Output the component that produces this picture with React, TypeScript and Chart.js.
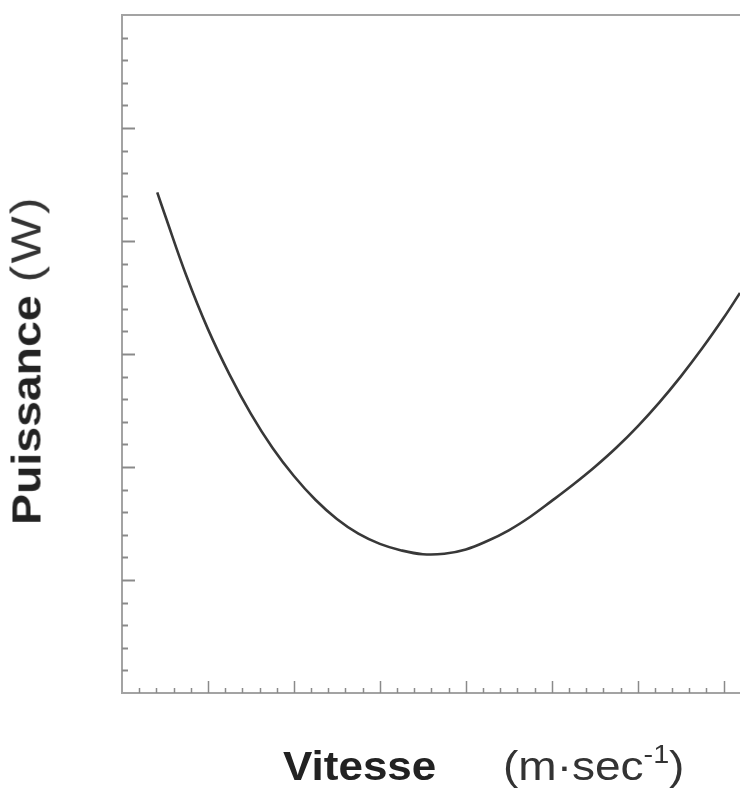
import React, { useEffect, useRef } from "react";
import { Chart, registerables } from "chart.js";

Chart.register(...registerables);

// Speed (axis units) and power (axis units)
const speed = [0.41, 0.5, 0.75, 1.0, 1.25, 1.5, 1.75, 2.0, 2.25, 2.5, 2.75, 3.0, 3.25, 3.5, 3.75, 4.0, 4.25, 4.5, 4.75, 5.0, 5.25, 5.5, 5.75, 6.0, 6.25, 6.5, 6.75, 7.0, 7.19];
const power = [4.43, 4.23, 3.69, 3.22, 2.82, 2.47, 2.17, 1.92, 1.71, 1.54, 1.41, 1.32, 1.262, 1.228, 1.232, 1.27, 1.345, 1.44, 1.56, 1.7, 1.845, 2.0, 2.17, 2.36, 2.57, 2.8, 3.05, 3.32, 3.54];

const xMin = 0;
const xMax = 7.19;
const yMin = 0;
const yMax = 6;
const minorStep = 0.2;

const AXIS_COLOR = "#a3a3a3";
const TICK_COLOR = "#8a8a8a";

const insideTicks = {
  id: "insideTicks",
  afterDraw(chart: any) {
    const { ctx, chartArea, scales } = chart;
    const xs = scales.x;
    const ys = scales.y;
    ctx.save();
    ctx.strokeStyle = TICK_COLOR;
    ctx.lineWidth = 2;
    const nY = Math.round((yMax - yMin) / minorStep);
    for (let i = 1; i < nY; i++) {
      const v = yMin + i * minorStep;
      const major = i % 5 === 0;
      const py = Math.round(ys.getPixelForValue(v)) + 0.5;
      const len = major ? 13 : 6;
      ctx.beginPath();
      ctx.moveTo(chartArea.left, py);
      ctx.lineTo(chartArea.left + len, py);
      ctx.stroke();
    }
    ctx.lineWidth = 1.5;
    const nX = Math.floor((xMax - xMin) / minorStep + 1e-6);
    for (let i = 1; i <= nX; i++) {
      const v = xMin + i * minorStep;
      const major = i % 5 === 0;
      const px = Math.round(xs.getPixelForValue(v)) + 0.5;
      const len = major ? 12 : 5;
      ctx.beginPath();
      ctx.moveTo(px, chartArea.bottom);
      ctx.lineTo(px, chartArea.bottom - len);
      ctx.stroke();
    }
    ctx.restore();
  },
};

export default function App() {
  const ref = useRef<HTMLCanvasElement | null>(null);

  useEffect(() => {
    if (!ref.current) return;
    const axisBase = {
      type: "linear",
      grid: { display: false, drawTicks: false },
      ticks: { display: false },
      border: { display: true, color: AXIS_COLOR, width: 2 },
    };
    const chart = new Chart(ref.current, {
      type: "scatter",
      data: {
        datasets: [
          {
            data: speed.map((s, i) => ({ x: s, y: power[i] })),
            showLine: true,
            borderColor: "#383838",
            borderWidth: 2.6,
            pointRadius: 0,
            tension: 0.4,
          },
        ],
      },
      options: {
        animation: false,
        responsive: false,
        events: [],
        layout: { padding: { left: 122, top: 15, right: 0, bottom: 98 } },
        plugins: { legend: { display: false }, tooltip: { enabled: false } },
        scales: {
          x: { ...axisBase, position: "bottom", min: xMin, max: xMax },
          xTop: { ...axisBase, position: "top", min: xMin, max: xMax },
          y: { ...axisBase, position: "left", min: yMin, max: yMax },
        },
      } as any,
      plugins: [insideTicks],
    });
    return () => chart.destroy();
  }, []);

  const font = "'Liberation Sans', Arial, sans-serif";

  return (
    <div style={{ position: "absolute", left: 0, top: 0, width: 740, height: 791, overflow: "hidden", background: "#fff" }}>
      <canvas ref={ref} width={740} height={791} style={{ display: "block", width: 740, height: 791 }} />
      <div
        style={{
          position: "absolute",
          left: 283,
          top: 746,
          fontFamily: font,
          fontSize: 40,
          lineHeight: "40px",
          color: "#222",
          whiteSpace: "nowrap",
          transform: "scaleX(1.1)",
          transformOrigin: "left top",
        }}
      >
        <span style={{ fontWeight: "bold" }}>Vitesse</span>
      </div>
      <div
        style={{
          position: "absolute",
          left: 503,
          top: 746,
          fontFamily: font,
          fontSize: 40,
          lineHeight: "40px",
          color: "#333",
          whiteSpace: "nowrap",
          transform: "scaleX(1.15)",
          transformOrigin: "left top",
        }}
      >
        (m·sec<span style={{ fontSize: 25, position: "relative", top: -17 }}>-1</span>)
      </div>
      <div
        style={{
          position: "absolute",
          left: 26,
          top: 360,
          fontFamily: font,
          fontSize: 40,
          lineHeight: "40px",
          color: "#222",
          whiteSpace: "nowrap",
          transform: "translate(-50%, -50%) rotate(-90deg) scaleX(1.16)",
          transformOrigin: "center center",
        }}
      >
        <span style={{ fontWeight: "bold" }}>Puissance</span>{" "}
        <span style={{ fontWeight: "normal", color: "#333", fontSize: 43, letterSpacing: 2 }}>(W)</span>
      </div>
    </div>
  );
}
